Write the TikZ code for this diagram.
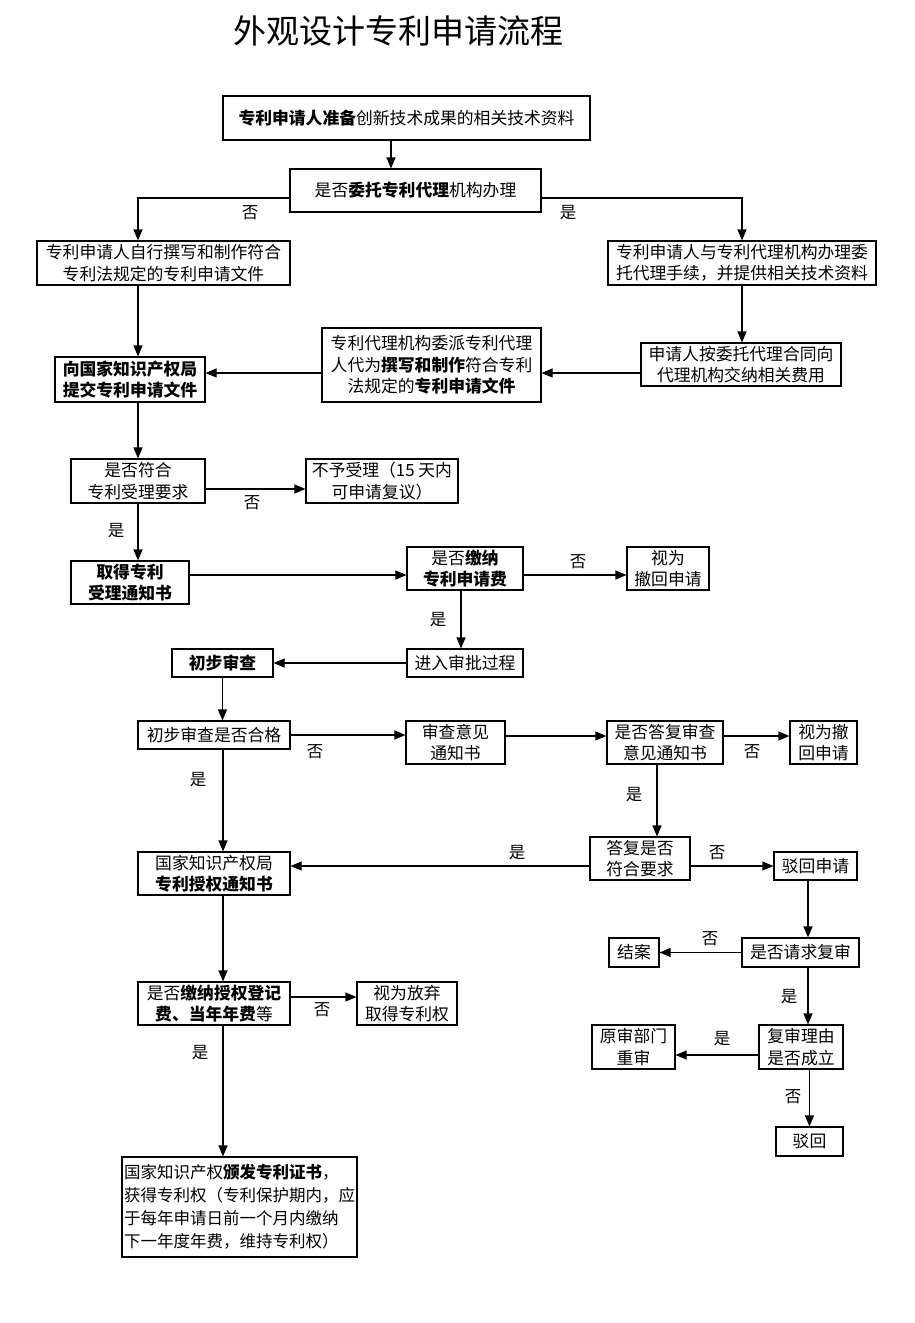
\documentclass[tikz,border=0pt]{standalone}
\usepackage{fontspec}
\setmainfont{Noto Sans CJK SC}
\usetikzlibrary{arrows.meta}
\tikzset{
  bx/.style 2 args={draw, line width=1.1pt, minimum width=#1, minimum height=#2,
    inner sep=1pt, align=center, font=\fontsize{16.8}{21.5}\selectfont},
  yn/.style={inner sep=0pt, font=\fontsize{16.5}{20}\selectfont},
  arr/.style={line width=1.1pt, -{Triangle[length=11pt,width=9pt]}},
}
\begin{document}
\begin{tikzpicture}[x=1pt,y=-1pt]
      \useasboundingbox (0,0) rectangle (914,1323);
      \draw
        (398,31) node[font=\fontsize{33}{33}\selectfont] (title) {外观设计专利申请流程}
        (406.5,118) node[bx={367}{44}] (prep) {\textbf{专利申请人准备}创新技术成果的相关技术资料}
        (415.5,190.5) node[bx={251}{43}] (entrust) {是否\textbf{委托专利代理}机构办理}
        (163.5,263) node[bx={253}{44}] (self) {专利申请人自行撰写和制作符合\\专利法规定的专利申请文件}
        (742,263) node[bx={268}{44}] (agency) {专利申请人与专利代理机构办理委\\托代理手续，并提供相关技术资料}
        (130,379.5) node[bx={150}{45}] (submit) {\textbf{向国家知识产权局}\\\textbf{提交专利申请文件}}
        (431.5,365) node[bx={219}{74}] (draft) {专利代理机构委派专利代理\\人代为\textbf{撰写和制作}符合专利\\法规定的\textbf{专利申请文件}}
        (741,364.5) node[bx={200}{43}] (payagent) {申请人按委托代理合同向\\代理机构交纳相关费用}
        (138,481) node[bx={134}{44}] (accept) {是否符合\\专利受理要求}
        (382,481) node[bx={152}{44}] (refuse) {不予受理（15 天内\\可申请复议）}
        (130,582.5) node[bx={118}{43}] (notice) {\textbf{取得专利}\\\textbf{受理通知书}}
        (465,568.5) node[bx={116}{43}] (fee) {是否\textbf{缴纳}\\\textbf{专利申请费}}
        (668,568.5) node[bx={82}{43}] (withdrawA) {视为\\撤回申请}
        (465,663) node[bx={116}{28}] (approve) {进入审批过程}
        (222.5,663) node[bx={101}{28}] (prelim) {\textbf{初步审查}}
        (214,735) node[bx={152}{28}] (qualify) {初步审查是否合格}
        (455.5,742.5) node[bx={99}{43}] (opinion) {审查意见\\通知书}
        (665,742.5) node[bx={116}{43}] (reply) {是否答复审查\\意见通知书}
        (823.5,742.5) node[bx={67}{43}] (withdrawB) {视为撤\\回申请}
        (640,858.5) node[bx={100}{43}] (meet) {答复是否\\符合要求}
        (214,873.5) node[bx={152}{43}] (grant) {国家知识产权局\\\textbf{专利授权通知书}}
        (815.5,866) node[bx={83}{28}] (rejectA) {驳回申请}
        (634,952.5) node[bx={50}{29}] (close) {结案}
        (800.5,952.5) node[bx={117}{29}] (review) {是否请求复审}
        (214,1003.5) node[bx={152}{43}] (annual) {是否\textbf{缴纳授权登记}\\\textbf{费、当年年费}等}
        (407,1003.5) node[bx={100}{43}] (abandon) {视为放弃\\取得专利权}
        (633.5,1047) node[bx={83}{44}] (retrial) {原审部门\\重审}
        (801,1047) node[bx={84}{44}] (reason) {复审理由\\是否成立}
        (809.5,1141.5) node[bx={67}{29}] (rejectB) {驳回}
        (239.5,1207) node[bx={235}{100}, inner sep=0pt, align=left, font=\fontsize{16.5}{23}\selectfont] (cert) {国家知识产权\textbf{颁发专利证书}，\\获得专利权（专利保护期内，应\\于每年申请日前一个月内缴纳\\下一年度年费，维持专利权）};
      \draw
        (250,213) node[yn] (no1) {否}
        (568,213) node[yn] (yes1) {是}
        (252,503) node[yn] (no2) {否}
        (116,531) node[yn] (yes2) {是}
        (578,562) node[yn] (no3) {否}
        (438,620) node[yn] (yes3) {是}
        (315,752) node[yn] (no4) {否}
        (752,752) node[yn] (no5) {否}
        (634,795) node[yn] (yes4) {是}
        (198,780) node[yn] (yes5) {是}
        (517,853) node[yn] (yes6) {是}
        (717,853) node[yn] (no6) {否}
        (710,939) node[yn] (no7) {否}
        (789,997) node[yn] (yes7) {是}
        (722,1039) node[yn] (yes8) {是}
        (793,1097) node[yn] (no8) {否}
        (322,1010) node[yn] (no9) {否}
        (200,1053) node[yn] (yes9) {是};
      \begin{scope}[arr]
        \draw ([xshift=-15.5pt]prep.south) -- ([xshift=-15.5pt]prep.south |- entrust.north);
        \draw ([yshift=-7.5pt]entrust.west) -| ([xshift=-25.5pt]self.north);
        \draw ([yshift=-7.5pt]entrust.east) -| (agency.north);
        \draw ([xshift=-25.5pt]self.south) -- ([xshift=-25.5pt]self.south |- submit.north);
        \draw (agency.south) -- (agency.south |- payagent.north);
        \draw ([yshift=-8.5pt]payagent.west) -- ([yshift=-8.5pt]payagent.west -| draft.east);
        \draw ([yshift=-8pt]draft.west) -- ([yshift=-8pt]draft.west -| submit.east);
        \draw (submit.south -| accept.north) -- (accept.north);
        \draw ([yshift=-8pt]accept.east) -- ([yshift=-8pt]accept.east -| refuse.west);
        \draw (accept.south) -- (accept.south |- notice.north);
        \draw ([yshift=7.5pt]notice.east) -- ([yshift=7.5pt]notice.east -| fee.west);
        \draw ([yshift=-6.5pt]fee.east) -- ([yshift=-6.5pt]fee.east -| withdrawA.west);
        \draw ([xshift=-4pt]fee.south) -- ([xshift=-4pt]fee.south |- approve.north);
        \draw (approve.west) -- (prelim.east);
        \draw (prelim.south) -- (prelim.south |- qualify.north);
        \draw (qualify.east) -- (qualify.east -| opinion.west);
        \draw ([yshift=6.5pt]opinion.east) -- ([yshift=6.5pt]opinion.east -| reply.west);
        \draw ([yshift=6.5pt]reply.east) -- ([yshift=6.5pt]reply.east -| withdrawB.west);
        \draw ([xshift=-8pt]reply.south) -- ([xshift=-8pt]reply.south |- meet.north);
        \draw ([yshift=-7.5pt]meet.west) -- ([yshift=-7.5pt]meet.west -| grant.east);
        \draw ([xshift=9pt]qualify.south) -- ([xshift=9pt]qualify.south |- grant.north);
        \draw (meet.east |- rejectA.west) -- (rejectA.west);
        \draw ([xshift=-7.5pt]rejectA.south) -- ([xshift=-7.5pt]rejectA.south |- review.north);
        \draw (review.west) -- (close.east);
        \draw ([xshift=7.5pt]review.south) -- ([xshift=7.5pt]review.south |- reason.north);
        \draw ([yshift=-8pt]reason.west) -- ([yshift=-8pt]reason.west -| retrial.east);
        \draw (reason.south -| rejectB.north) -- (rejectB.north);
        \draw ([xshift=9pt]grant.south) -- ([xshift=9pt]grant.south |- annual.north);
        \draw ([yshift=6.5pt]annual.east) -- ([yshift=6.5pt]annual.east -| abandon.west);
        \draw ([xshift=9pt]annual.south) -- ([xshift=9pt]annual.south |- cert.north);
      \end{scope}
    \end{tikzpicture}
\end{document}
